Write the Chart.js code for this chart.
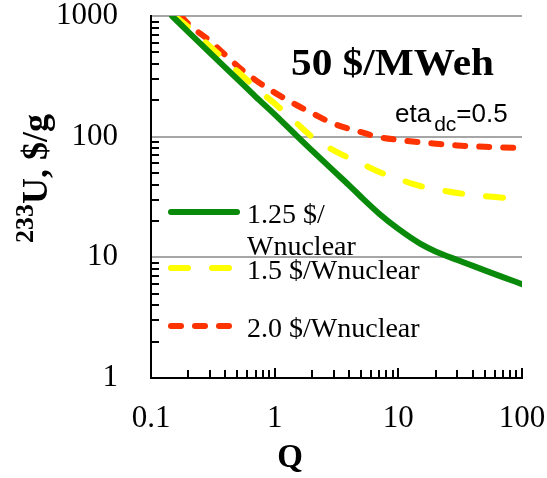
<!DOCTYPE html>
<html>
<head>
<meta charset="utf-8">
<script src="https://cdn.jsdelivr.net/npm/chart.js@4.4.1/dist/chart.umd.min.js"></script>
<style>
  html, body { margin: 0; padding: 0; background: #fff; }
  #wrap { width: 547px; height: 478px; }
</style>
</head>
<body>
<div id="wrap"><canvas id="chart"></canvas></div>
<script>
// ── Dati ──────────────────────────────────────────────────
var xTicks = [0.1, 1, 10, 100];
var yTicks = [1, 10, 100, 1000];

var qGreen = [0.148, 0.2, 0.3, 0.5, 0.7, 1, 1.5, 2, 3, 4, 5, 7, 10, 15, 20, 30, 50, 70, 100];
var uGreen = [1000, 740, 495, 300, 215, 153, 102, 77, 52, 39.5, 31.6, 23, 17.2, 13.0, 11.2, 9.5, 7.8, 6.85, 6.0];

var qYellow = [0.155, 0.2, 0.3, 0.5, 0.7, 1, 1.5, 2, 3, 5, 7, 10, 15, 20, 30, 50, 70, 100];
var uYellow = [1000, 810, 560, 348, 256, 188, 130, 100, 77, 60, 51, 44.6, 39, 36.7, 34.1, 32.2, 31.2, 30.1];

var qRed = [0.175, 0.2, 0.3, 0.5, 0.7, 1, 1.5, 2, 3, 5, 7, 10, 15, 20, 30, 50, 70, 100];
var uRed = [1000, 860, 620, 385, 294, 232, 183, 157, 128, 109, 99, 94, 90, 87.5, 84.5, 82.5, 81.5, 80.5];

var seriesLabels = [['1.25 $/', 'Wnuclear'], ['1.5 $/Wnuclear'], ['2.0 $/Wnuclear']];
var chartTitle = '50 $/MWeh';
var yTitleSup = '233';
var yTitleMain = 'U, $/g';
var xTitle = 'Q';

function pts(xs, ys) {
    return xs.map(function (x, i) { return { x: x, y: ys[i] }; });
}

var SERIF = '"Liberation Serif", "DejaVu Serif", serif';
var SANS = '"Liberation Sans", Arial, sans-serif';

// ── Tacche minori interne, legenda e testi ────────────────
var decorPlugin = {
    id: 'decor',
    afterDraw: function (chart) {
        var ctx = chart.ctx;
        var xs = chart.scales.x, ys = chart.scales.y;
        var area = chart.chartArea;
        ctx.save();
        ctx.strokeStyle = '#000';
        ctx.lineWidth = 2;
        // tacche asse y (verso l'interno)
        for (var k = 0; k < 3; k++) {
            for (var m = 2; m <= 9; m++) {
                var py = Math.round(ys.getPixelForValue(m * Math.pow(10, k)));
                ctx.beginPath();
                ctx.moveTo(area.left, py);
                ctx.lineTo(area.left + 8, py);
                ctx.stroke();
            }
        }
        // tacche asse x (verso l'alto)
        for (var k2 = -1; k2 < 2; k2++) {
            for (var m2 = 2; m2 <= 10; m2++) {
                var v = m2 * Math.pow(10, k2);
                var px = Math.round(xs.getPixelForValue(v));
                var len = (m2 === 10) ? 10 : 8;
                ctx.beginPath();
                ctx.moveTo(px, area.bottom);
                ctx.lineTo(px, area.bottom - len);
                ctx.stroke();
            }
        }

        // legenda
        var lineY = [212, 268, 326];
        var textY = [223, 279, 337];
        chart.data.datasets.forEach(function (ds, i) {
            ctx.save();
            ctx.strokeStyle = ds.borderColor;
            ctx.lineWidth = ds.borderWidth;
            ctx.lineCap = 'round';
            ctx.setLineDash(ds.borderDash || []);
            ctx.beginPath();
            ctx.moveTo(171, lineY[i]);
            ctx.lineTo(237, lineY[i]);
            ctx.stroke();
            ctx.restore();
            ctx.fillStyle = '#000';
            ctx.font = '28px ' + SERIF;
            ctx.textBaseline = 'alphabetic';
            ctx.textAlign = 'left';
            seriesLabels[i].forEach(function (t, j) {
                ctx.fillText(t, 247, textY[i] + j * 32);
            });
        });

        // titolo interno
        ctx.font = 'bold 37px ' + SERIF;
        ctx.textAlign = 'left';
        var tw = ctx.measureText(chartTitle).width;
        ctx.save();
        ctx.translate(291, 75);
        ctx.scale(203 / tw, 1);
        ctx.fillText(chartTitle, 0, 0);
        ctx.restore();

        // eta_dc=0.5
        var x = 395;
        ctx.font = '26px ' + SANS;
        ctx.fillText('eta', x, 122);
        x += ctx.measureText('eta').width + 3;
        ctx.font = '21px ' + SANS;
        ctx.fillText('dc', x, 131);
        x += ctx.measureText('dc').width;
        ctx.font = '26px ' + SANS;
        ctx.fillText('=0.5', x, 122);

        // titolo asse x
        ctx.font = 'bold 33px ' + SERIF;
        ctx.textAlign = 'center';
        ctx.fillText(xTitle, 290, 467);

        // titolo asse y con apice
        ctx.save();
        ctx.translate(47, 243);
        ctx.rotate(-Math.PI / 2);
        ctx.textAlign = 'left';
        ctx.font = 'bold 26px ' + SERIF;
        ctx.fillText(yTitleSup, 0, -14);
        var sw = ctx.measureText(yTitleSup).width;
        ctx.font = 'bold 36px ' + SERIF;
        ctx.fillText(yTitleMain, sw, 0);
        ctx.restore();

        ctx.restore();
    }
};

var ctx = document.getElementById('chart').getContext('2d');
new Chart(ctx, {
    type: 'scatter',
    data: {
        datasets: [
            {
                label: seriesLabels[0].join(''),
                data: pts(qGreen, uGreen),
                borderColor: '#0a8a0a',
                borderWidth: 6,
                borderCapStyle: 'round'
            },
            {
                label: seriesLabels[1].join(''),
                data: pts(qYellow, uYellow),
                borderColor: '#ffff00',
                borderWidth: 6,
                borderDash: [17, 24],
                borderCapStyle: 'round'
            },
            {
                label: seriesLabels[2].join(''),
                data: pts(qRed, uRed),
                borderColor: '#ff3300',
                borderWidth: 6,
                borderDash: [10, 14],
                borderCapStyle: 'round'
            }
        ]
    },
    options: {
        responsive: true,
        maintainAspectRatio: false,
        animation: false,
        showLine: true,
        elements: {
            point: { radius: 0, hoverRadius: 0 },
            line: { cubicInterpolationMode: 'monotone' }
        },
        layout: { padding: { top: 16, right: 25, bottom: 0, left: 0 } },
        plugins: {
            legend: { display: false },
            tooltip: { enabled: false }
        },
        scales: {
            x: {
                type: 'logarithmic',
                min: 0.1,
                max: 100,
                afterBuildTicks: function (s) { s.ticks = xTicks.map(function (v) { return { value: v }; }); },
                afterFit: function (s) { s.height = 100; },
                grid: { drawOnChartArea: false, drawTicks: true, tickLength: 25, tickColor: 'rgba(0,0,0,0)' },
                border: { color: '#000', width: 2 },
                ticks: {
                    color: '#000',
                    padding: 0,
                    maxRotation: 0,
                    autoSkip: false,
                    font: { family: SERIF, size: 31, lineHeight: 1 },
                    callback: function (v) { return String(v); }
                }
            },
            y: {
                type: 'logarithmic',
                min: 1,
                max: 1000,
                afterBuildTicks: function (s) { s.ticks = yTicks.map(function (v) { return { value: v }; }); },
                afterFit: function (s) { s.width = 151; },
                grid: {
                    drawTicks: true,
                    tickLength: 33,
                    tickColor: 'rgba(0,0,0,0)',
                    lineWidth: 2,
                    color: function (c) { return c.tick && c.tick.value === 1 ? 'rgba(0,0,0,0)' : '#a6a6a6'; }
                },
                border: { color: '#000', width: 2 },
                ticks: {
                    color: '#000',
                    padding: 0,
                    autoSkip: false,
                    font: { family: SERIF, size: 31, lineHeight: 1 },
                    callback: function (v) { return String(v); }
                }
            }
        }
    },
    plugins: [decorPlugin]
});
</script>
</body>
</html>
